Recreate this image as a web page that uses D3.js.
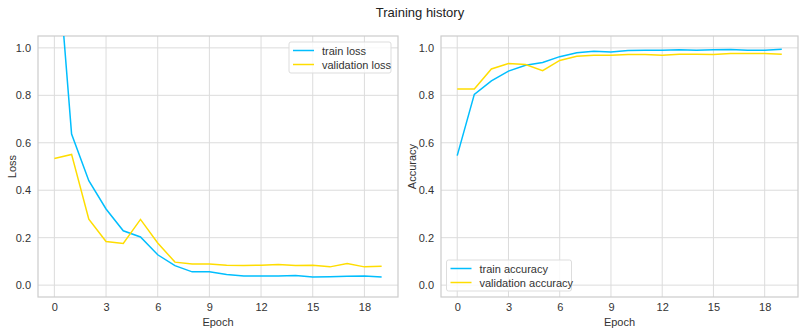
<!DOCTYPE html>
<html>
<head>
<meta charset="utf-8">
<script src="https://cdn.jsdelivr.net/npm/d3@7"></script>
<style>
  body { margin: 0; background: #fff; }
  svg { font-family: "Liberation Sans", Arial, sans-serif; }
  .grid line { stroke: #dcdcdc; stroke-width: 1; }
  .tick text { fill: #333; font-size: 11px; }
</style>
</head>
<body>
<div id="chart"></div>
<script>
const epochs = d3.range(20);
const trainLoss = [1.55, 0.637, 0.440, 0.321, 0.229, 0.203, 0.128, 0.082, 0.056, 0.056,
  0.045, 0.039, 0.038, 0.038, 0.041, 0.034, 0.035, 0.037, 0.039, 0.034];
const valLoss = [0.534, 0.551, 0.278, 0.184, 0.176, 0.277, 0.178, 0.097, 0.089, 0.089,
  0.084, 0.083, 0.084, 0.087, 0.083, 0.084, 0.077, 0.091, 0.077, 0.080];
const trainAcc = [0.546, 0.804, 0.861, 0.902, 0.927, 0.938, 0.963, 0.979, 0.986, 0.983,
  0.989, 0.990, 0.990, 0.992, 0.990, 0.992, 0.993, 0.990, 0.990, 0.994];
const valAcc = [0.827, 0.827, 0.911, 0.934, 0.930, 0.904, 0.947, 0.965, 0.969, 0.969,
  0.972, 0.972, 0.969, 0.973, 0.973, 0.972, 0.976, 0.976, 0.976, 0.973];
const xTicks = [0, 3, 6, 9, 12, 15, 18];
const yTicks = [0, 0.2, 0.4, 0.6, 0.8, 1.0];

const colors = { train: '#01BEFE', val: '#FFDD00' };

const svg = d3.select('#chart').append('svg')
  .attr('width', 800)
  .attr('height', 330);

svg.append('text')
  .attr('x', 420)
  .attr('y', 17)
  .attr('text-anchor', 'middle')
  .style('font-size', '13px')
  .style('fill', '#222')
  .text('Training history');

const drawPanel = (left, right, yLabel, labelX, series, legend) => {
  const top = 36, bottom = 297;

  const x = d3.scaleLinear().domain([-0.95, 19.95]).range([left, right]);
  const y = d3.scaleLinear().domain([-0.05, 1.05]).range([bottom, top]);

  const g = svg.append('g');

  // clip so the first loss point can run off the top
  const clipId = 'clip-' + yLabel;
  g.append('clipPath').attr('id', clipId)
    .append('rect')
    .attr('x', left).attr('y', top)
    .attr('width', right - left).attr('height', bottom - top);

  // grid
  g.append('g').attr('class', 'grid')
    .selectAll('line.v').data(xTicks).join('line')
    .attr('x1', d => x(d)).attr('x2', d => x(d))
    .attr('y1', top).attr('y2', bottom);
  g.append('g').attr('class', 'grid')
    .selectAll('line.h').data(yTicks).join('line')
    .attr('x1', left).attr('x2', right)
    .attr('y1', d => y(d)).attr('y2', d => y(d));

  // axes
  const xAxis = g.append('g')
    .attr('transform', `translate(0,${bottom})`)
    .call(d3.axisBottom(x).tickValues(xTicks).tickSize(0).tickPadding(6));
  xAxis.select('.domain').remove();

  const yAxis = g.append('g')
    .attr('transform', `translate(${left},0)`)
    .call(d3.axisLeft(y).tickValues(yTicks).tickFormat(d3.format('.1f')).tickSize(0).tickPadding(7));
  yAxis.select('.domain').remove();

  // frame
  g.append('rect')
    .attr('x', left).attr('y', top)
    .attr('width', right - left).attr('height', bottom - top)
    .attr('fill', 'none')
    .attr('stroke', '#cccccc')
    .attr('stroke-width', 1.2);

  // labels
  g.append('text')
    .attr('x', (left + right) / 2)
    .attr('y', 326)
    .attr('text-anchor', 'middle')
    .style('font-size', '11px')
    .style('fill', '#333')
    .text('Epoch');

  g.append('text')
    .attr('transform', `translate(${labelX},${(top + bottom) / 2}) rotate(-90)`)
    .attr('text-anchor', 'middle')
    .style('font-size', '11px')
    .style('fill', '#333')
    .text(yLabel);

  // lines
  const line = d3.line().x((d, i) => x(epochs[i])).y(d => y(d));
  const lines = g.append('g').attr('clip-path', `url(#${clipId})`);
  series.forEach(s => {
    lines.append('path')
      .datum(s.values)
      .attr('fill', 'none')
      .attr('stroke', s.color)
      .attr('stroke-width', 1.5)
      .attr('d', line);
  });

  // legend
  const lg = g.append('g').attr('transform', `translate(${legend.x},${legend.y})`);
  lg.append('rect')
    .attr('width', legend.w).attr('height', 31)
    .attr('rx', 2)
    .attr('fill', 'rgba(255,255,255,0.8)')
    .attr('stroke', '#dddddd');
  series.forEach((s, i) => {
    lg.append('line')
      .attr('x1', 4).attr('x2', 25)
      .attr('y1', 8.5 + i * 14).attr('y2', 8.5 + i * 14)
      .attr('stroke', s.color).attr('stroke-width', 1.5);
    lg.append('text')
      .attr('x', 33).attr('y', 12.5 + i * 14)
      .style('font-size', '11px')
      .style('fill', '#333')
      .text(s.name);
  });
};

drawPanel(38, 398, 'Loss', 16, [
  { name: 'train loss', values: trainLoss, color: colors.train },
  { name: 'validation loss', values: valLoss, color: colors.val }
], { x: 289, y: 42, w: 102 });

drawPanel(441, 798, 'Accuracy', 416, [
  { name: 'train accuracy', values: trainAcc, color: colors.train },
  { name: 'validation accuracy', values: valAcc, color: colors.val }
], { x: 446.5, y: 260, w: 125 });
</script>
</body>
</html>
